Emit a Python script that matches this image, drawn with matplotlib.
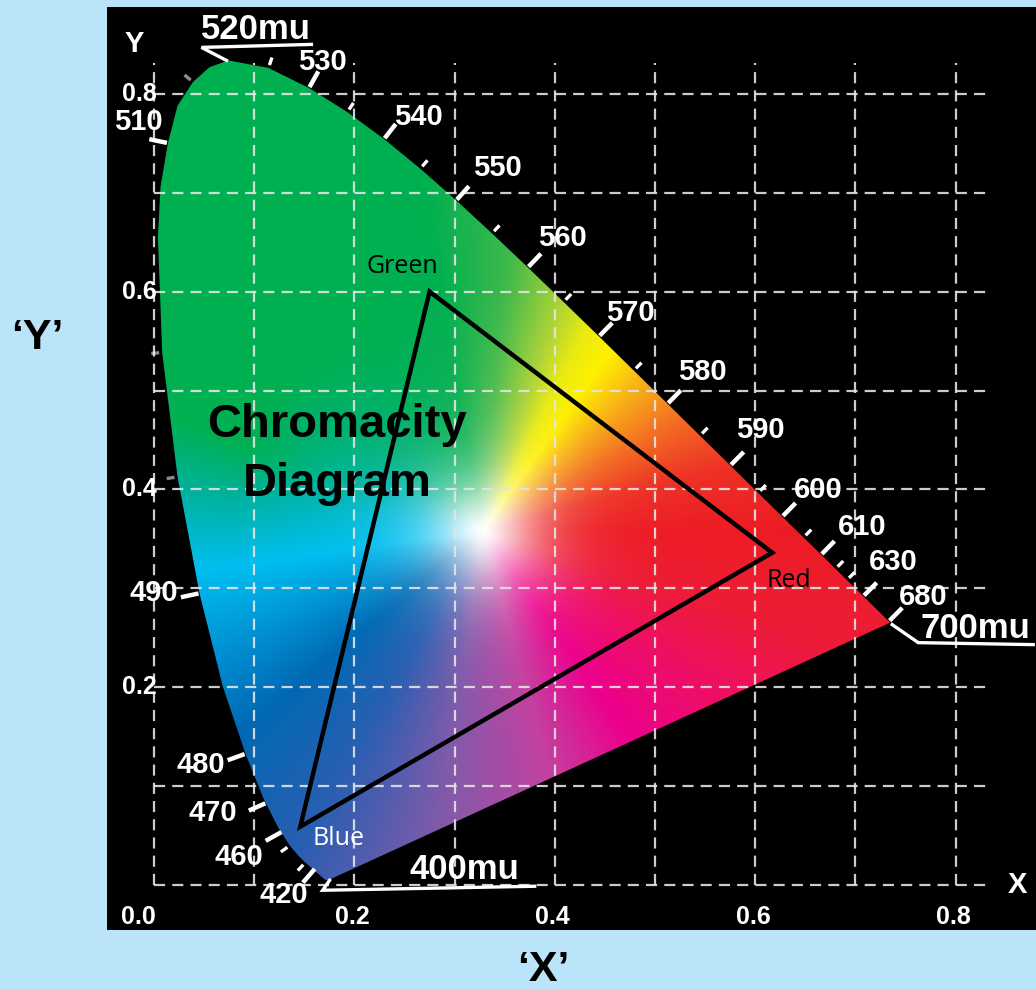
import numpy as np
import matplotlib
matplotlib.use("Agg")
import matplotlib.pyplot as plt
from matplotlib.patches import Polygon
from matplotlib.lines import Line2D
from matplotlib.transforms import IdentityTransform

# ---------------- data ----------------
locus_nm = [380, 385, 390, 395, 400, 405, 410, 415, 420, 425, 430, 435, 440, 445, 450,
            455, 460, 465, 470, 475, 480, 485, 490, 495, 500, 505, 507.5, 510, 512.5, 515,
            517.5, 520, 525,
            530, 535, 540, 545, 550, 555, 560, 565, 570, 575, 580, 585, 590, 595, 600,
            605, 610, 615, 620, 625, 630, 635, 640, 645, 650, 655, 660, 665, 670, 675,
            680, 690, 700]
locus_x = [0.1741, 0.1740, 0.1738, 0.1736, 0.1733, 0.1730, 0.1726, 0.1721, 0.1714, 0.1703,
           0.1689, 0.1669, 0.1644, 0.1611, 0.1566, 0.1510, 0.1440, 0.1355, 0.1241, 0.1096,
           0.0913, 0.0687, 0.0454, 0.0235, 0.0082, 0.0039, 0.0065, 0.0139, 0.0235, 0.0389,
           0.0555, 0.0743, 0.1142,
           0.1547, 0.1929, 0.2296, 0.2658, 0.3016, 0.3373, 0.3731, 0.4087, 0.4441, 0.4788,
           0.5125, 0.5448, 0.5752, 0.6029, 0.6270, 0.6482, 0.6658, 0.6801, 0.6915, 0.7006,
           0.7079, 0.7140, 0.7190, 0.7230, 0.7260, 0.7283, 0.7300, 0.7311, 0.7320, 0.7327,
           0.7334, 0.7344, 0.7347]
locus_y = [0.0050, 0.0050, 0.0049, 0.0049, 0.0048, 0.0048, 0.0048, 0.0048, 0.0051, 0.0058,
           0.0069, 0.0086, 0.0109, 0.0138, 0.0177, 0.0227, 0.0297, 0.0399, 0.0578, 0.0868,
           0.1327, 0.2007, 0.2950, 0.4127, 0.5384, 0.6548, 0.7060, 0.7502, 0.7880, 0.8120,
           0.8270, 0.8338, 0.8262,
           0.8059, 0.7816, 0.7543, 0.7243, 0.6923, 0.6589, 0.6245, 0.5896, 0.5547, 0.5202,
           0.4866, 0.4544, 0.4242, 0.3965, 0.3725, 0.3514, 0.3340, 0.3197, 0.3083, 0.2993,
           0.2920, 0.2859, 0.2809, 0.2770, 0.2740, 0.2717, 0.2700, 0.2689, 0.2680, 0.2673,
           0.2666, 0.2656, 0.2653]

# labelled wavelength marks (as placed on the drawn locus)
mark_labels = ['510', '530', '540', '550', '560', '570', '580', '590', '600', '610',
               '630', '680', '490', '480', '470', '460', '420']
mark_x = [0.0139, 0.1547, 0.2296, 0.3016, 0.3731, 0.4441, 0.5125, 0.5752, 0.6270, 0.6658,
          0.7079, 0.7334, 0.0454, 0.0913, 0.1120, 0.1280, 0.1610]
mark_y = [0.7502, 0.8059, 0.7543, 0.6923, 0.6245, 0.5547, 0.4866, 0.4242, 0.3725, 0.3340,
          0.2920, 0.2666, 0.2950, 0.1327, 0.0830, 0.0540, 0.0170]

# unlabelled small marks (wavelength, nm)
minor_nm = [455, 465, 495, 500, 515, 525, 535, 545, 555, 565, 575, 585, 595, 605, 615, 620]

# end labels of the spectral locus
end_labels = ['520mu', '700mu', '400mu']
end_nm = [520, 700, 400]

# gamut triangle
gamut_labels = ['Green', 'Red', 'Blue']
gamut_x = [0.275, 0.617, 0.146]
gamut_y = [0.600, 0.336, 0.059]

xtick_vals = [0.0, 0.2, 0.4, 0.6, 0.8]
xtick_labels = ['0.0', '0.2', '0.4', '0.6', '0.8']
ytick_vals = [0.2, 0.4, 0.6, 0.8]
ytick_labels = ['0.2', '0.4', '0.6', '0.8']
grid_vals = [0.0, 0.1, 0.2, 0.3, 0.4, 0.5, 0.6, 0.7, 0.8]

title_text = 'Chromacity\nDiagram'

# ---------------- layout / style ----------------
BG = '#BAE4F9'
FONT = 'Liberation Sans'
GRID_MAX = 0.831
white_pt = (0.328, 0.358)
# hue palettes by angle around the white point: far from it / close to it
pal_ang = [0, 15, 30, 42, 55, 63, 72, 85, 100, 118, 140, 160, 172, 188, 203, 220, 240, 262,
           285, 305, 325, 342, 360]
pal_far = np.array([
    (237, 28, 36), (238, 50, 38), (243, 110, 33), (247, 170, 25), (255, 240, 0),
    (235, 235, 15), (170, 210, 55), (60, 185, 75), (0, 176, 80), (0, 176, 80),
    (0, 176, 80), (0, 176, 82), (0, 178, 155), (0, 190, 240), (0, 150, 215),
    (0, 105, 180), (40, 95, 178), (130, 90, 170), (195, 65, 160), (236, 0, 140),
    (238, 15, 100), (237, 28, 55), (237, 28, 36)], dtype=float) / 255.0
pal_near = np.array([
    (237, 28, 36), (238, 50, 38), (243, 110, 33), (247, 170, 25), (255, 240, 0),
    (235, 235, 15), (175, 212, 60), (95, 192, 85), (20, 178, 85), (0, 177, 100),
    (0, 178, 140), (0, 184, 200), (0, 188, 228), (0, 190, 240), (0, 150, 215),
    (0, 105, 180), (40, 95, 178), (130, 90, 170), (195, 65, 160), (236, 0, 140),
    (238, 15, 100), (237, 28, 55), (237, 28, 36)], dtype=float) / 255.0

# text offsets (pixels, y up) relative to each labelled mark
mark_text_off = [(-30, 21), (13, 26), (34, 22), (41, 32), (35, 29), (31, 23), (35, 32),
                 (30, 35), (36, 27), (41, 28), (30, 34), (34, 24), (-46, 0), (-45, -11),
                 (-53, -10), (-43, -25), (-32, -27)]
# leader paths and text offsets for end labels (pixels, y up)
end_leaders = [[(-2, 0), (-27, 13), (83, 16)],
               [(2, -2), (28, -20), (143, -22)],
               [(2, 0), (-5, -10), (207, -6)]]
end_text_off = [(27, 31), (85, -6), (137, 11)]
gamut_text_off = [(-27, 25), (17, -28), (38, -12)]
gamut_text_col = ['black', 'black', 'white']

fig = plt.figure(figsize=(10.36, 9.89), dpi=100, facecolor=BG)
ax = fig.add_axes([107 / 1036, 1 - 930 / 989, 929 / 1036, 923 / 989])
ax.set_facecolor('black')
for s in ax.spines.values():
    s.set_visible(False)
ax.set_xticks([])
ax.set_yticks([])
XL = (-0.0469, 0.8802)
YL = (-0.0455, 0.8878)

# ---- colour field ----
gx = np.linspace(-0.01, 0.76, 800)
gy = np.linspace(-0.01, 0.86, 800)
GX, GY = np.meshgrid(gx, gy)
ang = np.degrees(np.arctan2(GY - white_pt[1], GX - white_pt[0])) % 360
dist = np.hypot(GX - white_pt[0], GY - white_pt[1])
rgb_far = np.stack([np.interp(ang, pal_ang, pal_far[:, k]) for k in range(3)], axis=-1)
rgb_near = np.stack([np.interp(ang, pal_ang, pal_near[:, k]) for k in range(3)], axis=-1)
w_far = np.clip((dist - 0.08) / 0.17, 0, 1)[..., None]
rgb = rgb_near * (1 - w_far) + rgb_far * w_far
sat = 1 - np.exp(-(dist / 0.058) ** 1.5)
img = 1 - sat[..., None] * (1 - rgb)
im = ax.imshow(img, extent=(gx[0], gx[-1], gy[0], gy[-1]), origin='lower',
               aspect='auto', interpolation='bilinear', zorder=1)
locus_poly = Polygon(np.column_stack([locus_x, locus_y]), closed=True,
                     transform=ax.transData, facecolor='none', edgecolor='none')
ax.add_patch(locus_poly)
im.set_clip_path(locus_poly)

ax.set_xlim(*XL)
ax.set_ylim(*YL)
ax.set_autoscale_on(False)

# ---- grid ----
for v in grid_vals:
    ax.plot([v, v], [0, GRID_MAX], color='#e4e4e4', lw=1.6, ls=(0, (5, 3.2)), alpha=0.9, zorder=3)
    ax.plot([0, GRID_MAX], [v, v], color='#e4e4e4', lw=1.6, ls=(0, (5, 3.2)), alpha=0.9, zorder=3)

# ---- gamut triangle ----
ax.add_patch(Polygon(np.column_stack([gamut_x, gamut_y]), closed=True, fill=False,
                     edgecolor='black', lw=3.2, joinstyle='miter', zorder=4))
for lab, gx_, gy_, off, col in zip(gamut_labels, gamut_x, gamut_y, gamut_text_off, gamut_text_col):
    ax.annotate(lab, (gx_, gy_), xytext=(off[0] * 0.72, off[1] * 0.72), textcoords='offset points',
                ha='center', va='center', fontsize=18, color=col, family='Open Sans', zorder=5)

# ---- title ----
ax.text(0.183, 0.435, title_text, ha='center', va='center', fontsize=34, fontweight='bold',
        family=FONT, color='black', linespacing=1.43, multialignment='center', zorder=5)

# ---- wavelength marks ----
disp_locus = ax.transData.transform(np.column_stack([locus_x, locus_y]))


def normal_at(p):
    i = int(np.argmin(np.hypot(*(disp_locus - p).T)))
    i0 = max(i - 1, 0)
    i1 = min(i + 1, len(disp_locus) - 1)
    t = disp_locus[i1] - disp_locus[i0]
    n = np.array([-t[1], t[0]])
    return n / np.linalg.norm(n)


def seg(p0, p1, lw, alpha=1.0):
    fig.add_artist(Line2D([p0[0], p1[0]], [p0[1], p1[1]], transform=IdentityTransform(),
                          color='white', lw=lw, solid_capstyle='butt', alpha=alpha, zorder=6))


for lab, mx, my, off in zip(mark_labels, mark_x, mark_y, mark_text_off):
    p = ax.transData.transform((mx, my))
    n = normal_at(p)
    seg(p + n * 1, p + n * 19, 3.2)
    ax.annotate(lab, (mx, my), xytext=(off[0] * 0.72, off[1] * 0.72), textcoords='offset points',
                ha='center', va='center', fontsize=21, fontweight='bold', color='white',
                family=FONT, zorder=7, annotation_clip=False)

for nm in minor_nm:
    mx = np.interp(nm, locus_nm, locus_x)
    my = np.interp(nm, locus_nm, locus_y)
    p = ax.transData.transform((mx, my))
    n = normal_at(p)
    faint = nm in (495, 500, 515)
    seg(p + n * 3, p + n * 11, 2.4, alpha=0.55 if faint else 1.0)

for lab, nm, path, off in zip(end_labels, end_nm, end_leaders, end_text_off):
    mx = np.interp(nm, locus_nm, locus_x)
    my = np.interp(nm, locus_nm, locus_y)
    p = ax.transData.transform((mx, my))
    pts = np.array([p + np.array(q) for q in path])
    fig.add_artist(Line2D(pts[:, 0], pts[:, 1], transform=IdentityTransform(), color='white',
                          lw=2.4, solid_joinstyle='miter', zorder=6))
    ax.annotate(lab, (mx, my), xytext=(off[0] * 0.72, off[1] * 0.72), textcoords='offset points',
                ha='center', va='center', fontsize=25, fontweight='bold', color='white',
                family=FONT, zorder=7, annotation_clip=False)

# ---- axis labels ----
for v, lab in zip(xtick_vals, xtick_labels):
    dx = -0.016 if v == 0 else -0.002
    ax.text(v + dx, -0.032, lab, ha='center', va='center', fontsize=18, fontweight='bold',
            color='white', family=FONT, zorder=7)
for v, lab in zip(ytick_vals, ytick_labels):
    ax.text(0.003, v, lab, ha='right', va='center', fontsize=18, fontweight='bold',
            color='white', family=FONT, zorder=7)
ax.text(-0.020, 0.850, 'Y', ha='center', va='center', fontsize=21, fontweight='bold',
        color='white', family=FONT, zorder=7)
ax.text(0.862, 0.0, 'X', ha='center', va='center', fontsize=21, fontweight='bold',
        color='white', family=FONT, zorder=7)

fig.text(37 / 1036, 1 - 338 / 989, '\u2018Y\u2019', ha='center', va='center', fontsize=31,
         fontweight='bold', family=FONT, color='black')
fig.text(543 / 1036, 1 - 970 / 989, '\u2018X\u2019', ha='center', va='center', fontsize=31,
         fontweight='bold', family=FONT, color='black')

fig.savefig('out.png', dpi=100, facecolor=BG)
